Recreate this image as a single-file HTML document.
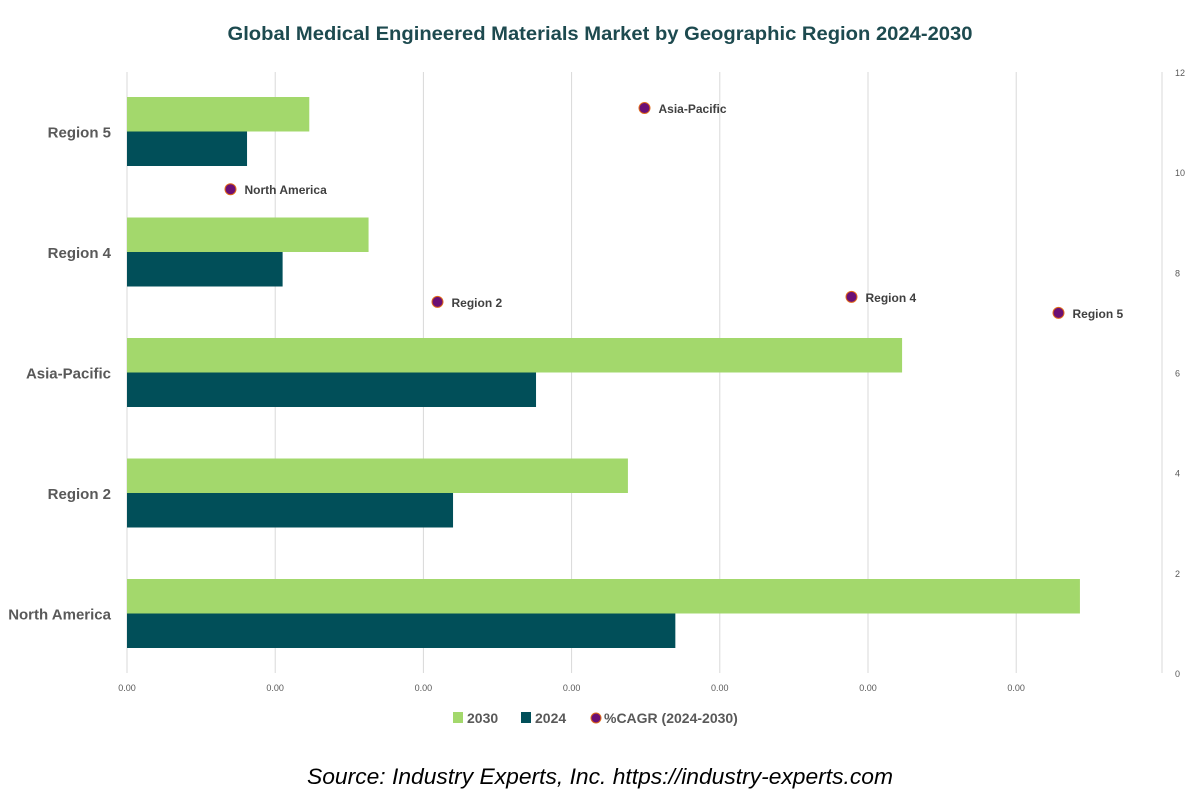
<!DOCTYPE html>
<html><head><meta charset="utf-8"><style>
html,body{margin:0;padding:0;background:#fff;}
svg{display:block;font-family:"Liberation Sans",sans-serif;}
</style></head><body>
<svg id="chart" width="1200" height="800" viewBox="0 0 1200 800">
<text x="600" y="40" text-anchor="middle" font-size="19" font-weight="bold" fill="#1d4a4f" textLength="745" lengthAdjust="spacingAndGlyphs">Global Medical Engineered Materials Market by Geographic Region 2024-2030</text>
<g id="grid"></g>
<g id="bars"></g>
<g id="points"></g>
<g id="axes"></g>
<g>
<rect x="453" y="712" width="10" height="11" fill="#a3d86c"/>
<text x="467" y="723" font-size="14" font-weight="bold" fill="#595959">2030</text>
<rect x="521" y="712" width="10" height="11" fill="#014f59"/>
<text x="535" y="723" font-size="14" font-weight="bold" fill="#595959">2024</text>
<circle cx="596" cy="718" r="5" fill="#6b0f74" stroke="#e06a1a" stroke-width="1"/>
<text x="604" y="723" font-size="14" font-weight="bold" fill="#595959">%CAGR (2024-2030)</text>
</g>
<text x="600" y="784" text-anchor="middle" font-size="22" font-style="italic" fill="#000" textLength="586" lengthAdjust="spacingAndGlyphs">Source: Industry Experts, Inc. https://industry-experts.com</text>
</svg>
<script>
const categories = ["North America","Region 2","Asia-Pacific","Region 4","Region 5"];
const values2030 = [6.43,3.38,5.23,1.63,1.23];
const values2024 = [3.70,2.20,2.76,1.05,0.81];
const cagrValues = [9.66,7.41,11.28,7.51,7.19];
const xTickLabels = ["0.00","0.00","0.00","0.00","0.00","0.00","0.00"];
const yRightTicks = [0,2,4,6,8,10,12];

const NS="http://www.w3.org/2000/svg";
const L=127,R=1162,T=72,B=673,xUnit=148.2;
const xScale=v=>L+v*xUnit;
const band=120.5, naCenter=613.5;
const catY=i=>naCenter-i*band;
const yR=v=>B-(v/12)*(B-T);
const catX=i=>L+(i+0.5)*(R-L)/categories.length;
function mk(tag,attrs,parent,text){const e=document.createElementNS(NS,tag);for(const k in attrs)e.setAttribute(k,attrs[k]);if(text!==undefined)e.textContent=text;parent.appendChild(e);return e;}
const grid=document.getElementById('grid'),bars=document.getElementById('bars'),pts=document.getElementById('points'),axes=document.getElementById('axes');
xTickLabels.forEach((t,i)=>{
 const x=xScale(i);
 const g=mk('line',{x1:x,y1:T,x2:x,y2:B,stroke:'#d9d9d9','stroke-width':1},grid);
 
 
 const tx=mk('text',{x:x,y:691,'text-anchor':'middle','font-size':9,fill:'#595959'},axes,t);
 
 
});
const ra=mk('line',{x1:R,y1:T,x2:R,y2:B,stroke:'#d9d9d9','stroke-width':1},axes);


yRightTicks.forEach(v=>{
 const t=mk('text',{x:1175,y:yR(v)+4,'font-size':9,fill:'#595959'},axes,String(v));
 
 
});
categories.forEach((c,i)=>{
 const cy=catY(i);
 const b1=mk('rect',{x:L,y:cy-34.5,width:xScale(values2030[i])-L,height:34.5,fill:'#a3d86c'},bars);
 
 
 const b2=mk('rect',{x:L,y:cy,width:xScale(values2024[i])-L,height:34.5,fill:'#014f59'},bars);
 
 
 const lb=mk('text',{x:111,y:cy+6,'text-anchor':'end','font-size':15,'font-weight':'bold',fill:'#595959'},axes,c);
 
 
 const px=catX(i),py=yR(cagrValues[i]);
 const p=mk('circle',{cx:px,cy:py,r:5.5,fill:'#6b0f74',stroke:'#e06a1a','stroke-width':1},pts);
 
 
 const pl=mk('text',{x:px+14,y:py+5,'font-size':12,'font-weight':'bold',fill:'#404040'},pts,c);
 
 
});
</script>
</body></html>
